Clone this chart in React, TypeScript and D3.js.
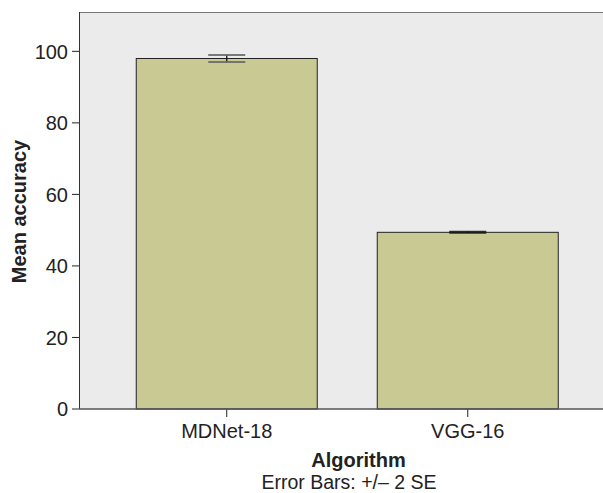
import React from "react";
import * as d3 from "d3";

const categories = ["MDNet-18", "VGG-16"];
const means = [98.0, 49.4];
const errLow = [97.0, 49.2];
const errHigh = [99.0, 49.6];
const yTicks = [0, 20, 40, 60, 80, 100];

const W = 603;
const H = 493;
const plotLeft = 79;
const plotTop = 12;
const plotBottom = 409;

export default function App() {
  const x = d3
    .scaleBand<string>()
    .domain(categories)
    .range([76, 618.5])
    .paddingInner(0.249)
    .paddingOuter(0.25);
  const y = d3.scaleLinear().domain([0, 111.0]).range([plotBottom, plotTop]);
  const y0 = y(0);
  const font = "'Liberation Sans', Arial, sans-serif";
  const capW = 37;
  return (
    <svg width={W} height={H} style={{ position: "absolute", left: 0, top: 0 }}>
      <rect x={0} y={0} width={W} height={H} fill="#fff" />
      <rect x={plotLeft} y={plotTop} width={W - plotLeft} height={y0 - plotTop} fill="#ebebeb" />
      <line x1={plotLeft} x2={W} y1={plotTop + 0.5} y2={plotTop + 0.5} stroke="#777" strokeWidth={1} />
      {categories.map((c, i) => {
        const bx = x(c)!;
        const bw = x.bandwidth();
        const cx = bx + bw / 2;
        return (
          <g key={c}>
            <rect x={bx} y={y(means[i])} width={bw} height={y0 - y(means[i])} fill="#c9c994" stroke="#222" strokeWidth={1} />
            <line x1={cx} x2={cx} y1={y(errHigh[i])} y2={y(errLow[i])} stroke="#111" strokeWidth={1.3} />
            <line x1={cx - capW / 2} x2={cx + capW / 2} y1={y(errHigh[i])} y2={y(errHigh[i])} stroke={i === 0 ? "#666" : "#111"} strokeWidth={i === 0 ? 2 : 1.5} opacity={0.85} />
            <line x1={cx - capW / 2} x2={cx + capW / 2} y1={y(errLow[i])} y2={y(errLow[i])} stroke={i === 0 ? "#666" : "#111"} strokeWidth={i === 0 ? 2 : 1.5} opacity={0.85} />
            <line x1={cx} x2={cx} y1={y0} y2={y0 + 8} stroke="#222" strokeWidth={1} />
            <text x={cx} y={437.5} textAnchor="middle" fontFamily={font} fontSize={20} fill="#222">{c}</text>
          </g>
        );
      })}
      <line x1={plotLeft + 0.5} x2={plotLeft + 0.5} y1={plotTop} y2={y0} stroke="#333" strokeWidth={1} />
      <line x1={plotLeft} x2={W} y1={y0} y2={y0} stroke="#555" strokeWidth={1.6} />
      {yTicks.map((t) => (
        <g key={t}>
          <line x1={plotLeft - 7} x2={plotLeft} y1={y(t)} y2={y(t)} stroke="#222" strokeWidth={1} />
          <text x={68} y={y(t) + 7.2} textAnchor="end" fontFamily={font} fontSize={20} fill="#222">{t}</text>
        </g>
      ))}
      <text transform={`translate(26,${(plotTop + y0) / 2 + 1}) rotate(-90)`} textAnchor="middle" fontFamily={font} fontSize={20} fontWeight="bold" fill="#222">Mean accuracy</text>
      <text x={358.5} y={466.5} textAnchor="middle" fontFamily={font} fontSize={20} fontWeight="bold" fill="#222">Algorithm</text>
      <text x={349} y={489} textAnchor="middle" fontFamily={font} fontSize={19.5} fill="#222">Error Bars: +/– 2 SE</text>
    </svg>
  );
}
